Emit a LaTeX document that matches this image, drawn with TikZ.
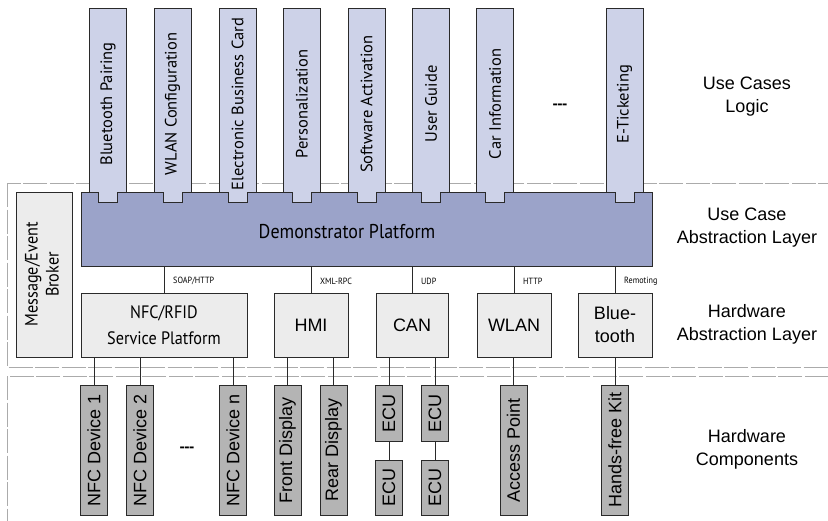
\documentclass[tikz,border=0pt]{standalone}
\usepackage{fontspec}
\setmainfont{Liberation Sans}
\newfontfamily\myr{PT Sans}
\newfontfamily\myrn[FakeStretch=0.9]{PT Sans}
\usetikzlibrary{calc}
\definecolor{ucfill}{HTML}{CDD2E8}
\definecolor{platfill}{HTML}{9BA3C9}
\definecolor{halfill}{HTML}{ECECEC}
\definecolor{devfill}{HTML}{B4B4B4}
\definecolor{framegray}{HTML}{ABABAB}
\definecolor{edge}{HTML}{2A2A2A}
\begin{document}
\begin{tikzpicture}[x=1pt,y=-1pt,
  box/.style={draw=edge, line width=1pt, inner sep=0pt, outer sep=0pt},
  ucbox/.style={box, fill=ucfill, minimum width=37pt, minimum height=184pt, font=\myr\fontsize{16.5}{19}\selectfont},
  platbox/.style={box, fill=platfill},
  halbox/.style={box, fill=halfill, minimum height=64pt, align=center, font=\fontsize{18}{23}\selectfont},
  devbox/.style={box, fill=devfill, minimum width=27pt, font=\fontsize{18}{22}\selectfont},
  proto/.style={anchor=west, inner sep=2pt, font=\myrn\fontsize{9}{10}\selectfont},
  layer/.style={align=center, font=\fontsize{18}{23}\selectfont},
  frame/.style={draw=framegray, line width=1pt, dash pattern=on 24pt off 2.5pt},
  link/.style={draw=edge, line width=1pt}
]
\useasboundingbox (0,0) rectangle (828,520);
\clip (0,0) rectangle (828,520);
\fill[white] (0,0) rectangle (828,520);

% dashed layer frames
\draw[frame] (7,183) rectangle (850,367);
\draw[frame] (7,376) rectangle (850,540);

% platform
\node[platbox, minimum width=571pt, minimum height=74pt] (plat) at (366.5,229) {};
\node[font=\myrn\fontsize{20}{24}\selectfont] (platlabel) at (347,232) {Demonstrator Platform};

% use case columns
\node[ucbox] (uc1) at (108,100) {\rotatebox{90}{Bluetooth Pairing\hspace*{8pt}}};
\node[ucbox] (uc2) at (172.5,100) {\rotatebox{90}{WLAN Configuration\hspace*{8pt}}};
\node[ucbox] (uc3) at (237.5,100) {\rotatebox{90}{Electronic Business Card\hspace*{8pt}}};
\node[ucbox] (uc4) at (302,100) {\rotatebox{90}{Personalization\hspace*{8pt}}};
\node[ucbox] (uc5) at (366.5,100) {\rotatebox{90}{Software Activation\hspace*{8pt}}};
\node[ucbox] (uc6) at (431,100) {\rotatebox{90}{User Guide\hspace*{8pt}}};
\node[ucbox] (uc7) at (495,100) {\rotatebox{90}{Car Information\hspace*{8pt}}};
\node[ucbox] (uc8) at (624.5,100) {\rotatebox{90}{E-Ticketing\hspace*{8pt}}};
\foreach \n in {uc1,uc2,uc3,uc4,uc5,uc6,uc7,uc8}{
  \fill[ucfill] ([shift={(-9.5,-0.6)}]\n.south) rectangle ([shift={(9.5,10)}]\n.south);
  \draw[edge, line width=1pt] ([shift={(-9.5,0)}]\n.south) -- ++(0,10) -- ++(19,0) -- ++(0,-10);
}
\node[font=\myr\bfseries\fontsize{16}{16}\selectfont] (dots1) at (560,107) {---};

% broker
\node[box, fill=halfill, minimum width=56pt, minimum height=165pt] (broker) at (44,274.5)
  {\rotatebox{90}{\myrn\fontsize{18}{21}\selectfont\begin{tabular}{@{}c@{}}Message/Event\\Broker\end{tabular}}};

% hardware abstraction boxes
\node[halbox, minimum width=166pt, font=\myrn\fontsize{18}{26}\selectfont] (nfcsp) at (164,325) {NFC/RFID\\Service Platform};
\node[halbox, minimum width=74pt] (hmi) at (311,325) {HMI};
\node[halbox, minimum width=72pt] (can) at (412,325) {CAN};
\node[halbox, minimum width=74pt] (wlan) at (514,325) {WLAN};
\node[halbox, minimum width=74pt] (bt) at (615,325) {Blue-\\tooth};

% platform to HAL links
\foreach \n in {nfcsp, hmi, can, wlan, bt}{
  \draw[link] (\n.north) -- (\n.north |- plat.south);
}
\node[proto] (p1) at (171,281) {SOAP/HTTP};
\node[proto] (p2) at (318,281) {XML-RPC};
\node[proto] (p3) at (419,281) {UDP};
\node[proto] (p4) at (521,281) {HTTP};
\node[proto] (p5) at (622,281) {Remoting};

% hardware components
\node[devbox, minimum height=130pt] (nfc1) at (94,450) {\rotatebox{90}{NFC Device 1}};
\node[devbox, minimum height=130pt] (nfc2) at (140,450) {\rotatebox{90}{NFC Device 2}};
\node[font=\myr\bfseries\fontsize{16}{16}\selectfont] (dots2) at (187,450) {---};
\node[devbox, minimum height=130pt] (nfcn) at (233,450) {\rotatebox{90}{NFC Device n}};
\node[devbox, minimum height=130pt] (front) at (287.5,450) {\rotatebox{90}{Front Display}};
\node[devbox, minimum height=130pt] (rear) at (333.5,450) {\rotatebox{90}{Rear Display}};
\node[devbox, minimum height=56pt] (ecu1a) at (389,413) {\rotatebox{90}{ECU}};
\node[devbox, minimum height=55pt] (ecu1b) at (389,487.5) {\rotatebox{90}{ECU}};
\node[devbox, minimum height=56pt] (ecu2a) at (435,413) {\rotatebox{90}{ECU}};
\node[devbox, minimum height=55pt] (ecu2b) at (435,487.5) {\rotatebox{90}{ECU}};
\node[devbox, minimum height=130pt] (ap) at (513.5,450) {\rotatebox{90}{Access Point}};
\node[devbox, minimum height=130pt] (hfk) at (615,450) {\rotatebox{90}{Hands-free Kit}};

\foreach \d/\h in {nfc1/nfcsp, nfc2/nfcsp, nfcn/nfcsp, front/hmi, rear/hmi, ecu1a/can, ecu2a/can, ap/wlan, hfk/bt}{
  \draw[link] (\d.north) -- (\d.north |- \h.south);
}
\draw[link] (ecu1a) -- (ecu1b);
\draw[link] (ecu2a) -- (ecu2b);

% layer labels
\node[layer] (l1) at (747,97) {Use Cases\\Logic};
\node[layer] (l2) at (747,228) {Use Case\\Abstraction Layer};
\node[layer] (l3) at (747,324) {Hardware\\Abstraction Layer};
\node[layer] (l4) at (747,449) {Hardware\\Components};
\end{tikzpicture}
\end{document}
